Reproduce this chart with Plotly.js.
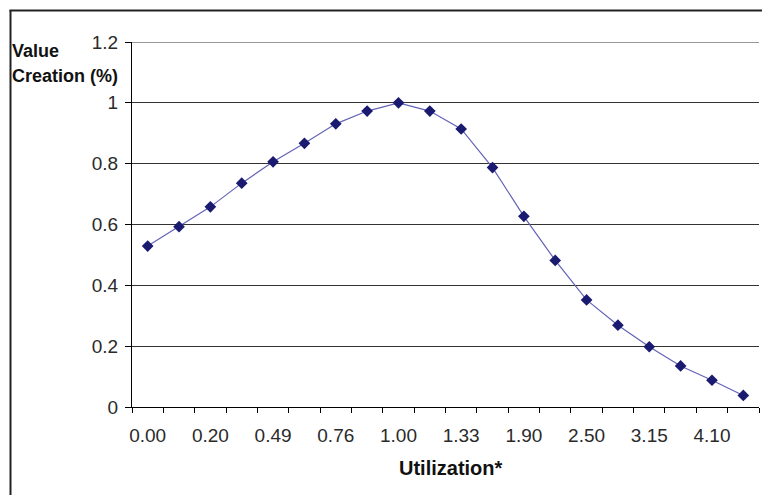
<!DOCTYPE html>
<html>
<head>
<meta charset="utf-8">
<script src="https://cdn.plot.ly/plotly-3.0.1.min.js"></script>
<style>
  html, body { margin: 0; padding: 0; background: #fff; }
  #chart { width: 762px; height: 495px; }
</style>
</head>
<body>
<div id="chart"></div>
<script>
// Tick labels shown under every other category (Utilization*)
const tickLabels = ['0.00', '0.20', '0.49', '0.76', '1.00', '1.33', '1.90', '2.50', '3.15', '4.10'];
// Value Creation (%) for the 20 categories
const valueCreation = [0.529, 0.593, 0.658, 0.736, 0.806, 0.867, 0.931, 0.973, 1.0, 0.973,
                       0.914, 0.787, 0.627, 0.482, 0.352, 0.269, 0.198, 0.135, 0.088, 0.038];
const yTicks = [0, 0.2, 0.4, 0.6, 0.8, 1, 1.2];

const n = valueCreation.length;
const xIdx = valueCreation.map((_, i) => i);
const labelPos = tickLabels.map((_, i) => i * 2);
const boundaries = [];
for (let i = 0; i <= n; i++) boundaries.push(i - 0.5);

const W = 762, H = 495;
const M = { l: 132, r: 3, t: 42, b: 88 };
const pw = W - M.l - M.r, ph = H - M.t - M.b;
const px = x => (x - M.l) / pw;
const py = y => (H - M.b - y) / ph;

const trace = {
  x: xIdx,
  y: valueCreation,
  type: 'scatter',
  mode: 'lines+markers',
  line: { color: '#6363b8', width: 1.2 },
  marker: { symbol: 'diamond', size: 9, color: '#1a1a70' },
  hoverinfo: 'skip',
  cliponaxis: false
};

const gridColor = '#333333';

const layout = {
  width: W, height: H,
  margin: M,
  paper_bgcolor: '#ffffff',
  plot_bgcolor: '#ffffff',
  showlegend: false,
  font: { family: 'Liberation Sans, Arial, sans-serif', color: '#222' },
  xaxis: {
    type: 'linear',
    range: [-0.5, n - 0.5],
    tickmode: 'array',
    tickvals: labelPos,
    ticktext: tickLabels,
    ticks: 'outside',
    ticklen: 5,
    tickcolor: 'rgba(0,0,0,0)',
    ticklabelstandoff: 6,
    tickfont: { size: 19, color: '#2a2a2a' },
    showgrid: false,
    zeroline: false,
    showline: true,
    linecolor: '#000',
    linewidth: 1,
    minor: {
      tickmode: 'array',
      tickvals: boundaries,
      ticks: 'outside',
      ticklen: 5,
      tickcolor: '#000',
      tickwidth: 1,
      showgrid: false
    },
    fixedrange: true
  },
  yaxis: {
    range: [0, 1.2],
    tickmode: 'array',
    tickvals: yTicks,
    ticks: 'outside',
    ticklen: 6,
    tickcolor: '#000',
    ticklabelstandoff: 3,
    tickfont: { size: 19, color: '#2a2a2a' },
    showgrid: true,
    gridcolor: gridColor,
    gridwidth: 1,
    zeroline: false,
    showline: true,
    linecolor: '#000',
    linewidth: 1,
    fixedrange: true
  },
  annotations: [
    { text: 'Value', xref: 'paper', yref: 'paper', x: px(10.5), y: py(51),
      xanchor: 'left', yanchor: 'middle', showarrow: false,
      font: { size: 18, color: '#111', family: 'Liberation Sans, Arial, sans-serif', weight: 'bold' } },
    { text: 'Creation (%)', xref: 'paper', yref: 'paper', x: px(10.5), y: py(76),
      xanchor: 'left', yanchor: 'middle', showarrow: false,
      font: { size: 18, color: '#111', family: 'Liberation Sans, Arial, sans-serif', weight: 'bold' } },
    { text: 'Utilization*', xref: 'paper', yref: 'paper', x: px(451), y: py(468),
      xanchor: 'center', yanchor: 'middle', showarrow: false,
      font: { size: 20, color: '#111', family: 'Liberation Sans, Arial, sans-serif', weight: 'bold' } }
  ],
  shapes: [
    // top gridline at the highest tick (not drawn by Plotly at the range edge)
    { type: 'line', xref: 'paper', yref: 'y', x0: 0, x1: 1,
      y0: yTicks[yTicks.length - 1], y1: yTicks[yTicks.length - 1],
      line: { color: gridColor, width: 1 } },
    // outer frame lines
    { type: 'line', xref: 'paper', yref: 'paper', x0: px(9.5), x1: px(762), y0: py(10.5), y1: py(10.5),
      line: { color: '#222', width: 2 } },
    { type: 'line', xref: 'paper', yref: 'paper', x0: px(10.5), x1: px(10.5), y0: py(10), y1: py(495),
      line: { color: '#222', width: 2 } }
  ]
};

Plotly.newPlot('chart', [trace], layout, { displayModeBar: false, staticPlot: true });
</script>
</body>
</html>
